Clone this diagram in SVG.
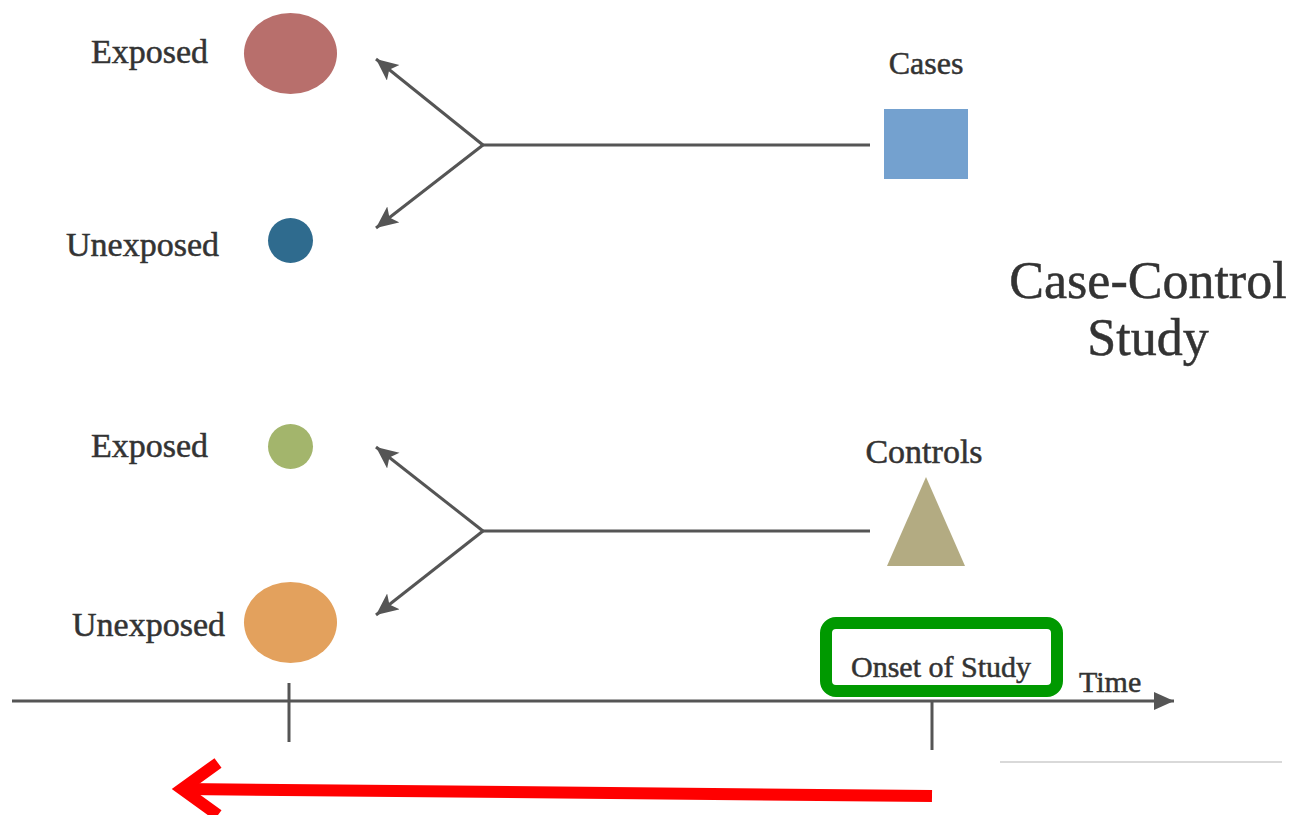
<svg xmlns="http://www.w3.org/2000/svg" width="1294" height="815" viewBox="0 0 1294 815">
<style>
.lbl{font-family:"Liberation Serif","Times New Roman",serif;fill:#333;stroke:#333;stroke-width:0.5}
.conn{stroke:#555;stroke-width:3;fill:none}
</style>
<defs>
<marker id="ah" markerUnits="userSpaceOnUse" markerWidth="26" markerHeight="22" refX="22" refY="10" orient="auto">
<path d="M0,0 L22,10 L0,20 L5,10 Z" fill="#555"/>
</marker>
<marker id="ah2" markerUnits="userSpaceOnUse" markerWidth="24" markerHeight="20" refX="20" refY="9" orient="auto">
<path d="M0,0 L20,9 L0,18 Z" fill="#555"/>
</marker>
</defs>
<rect width="1294" height="815" fill="#fff"/>
<g id="top-exposed">
<ellipse cx="290.5" cy="53.5" rx="46.5" ry="40.5" fill="#b86f6c"/>
<text class="lbl" x="208" y="63" font-size="34" text-anchor="end">Exposed</text>
</g>
<g id="top-unexposed">
<circle cx="290.5" cy="240.5" r="22.5" fill="#2f6b8e"/>
<text class="lbl" x="219" y="256" font-size="34" text-anchor="end">Unexposed</text>
</g>
<g id="cases">
<rect x="884" y="109" width="84" height="70" fill="#74a1cf"/>
<text class="lbl" x="926" y="74" font-size="32" text-anchor="middle">Cases</text>
</g>
<g id="title">
<text class="lbl" x="1148" y="298" font-size="52" text-anchor="middle">Case-Control</text>
<text class="lbl" x="1148" y="355" font-size="52" text-anchor="middle">Study</text>
</g>
<g id="bottom-exposed">
<circle cx="290.5" cy="446.5" r="22.5" fill="#a3b56c"/>
<text class="lbl" x="208" y="457" font-size="34" text-anchor="end">Exposed</text>
</g>
<g id="bottom-unexposed">
<ellipse cx="290.5" cy="622.5" rx="46.5" ry="40.5" fill="#e3a15d"/>
<text class="lbl" x="225" y="636" font-size="34" text-anchor="end">Unexposed</text>
</g>
<g id="controls">
<polygon points="926,477 965,566 887,566" fill="#b3ab82"/>
<text class="lbl" x="924" y="463" font-size="34" text-anchor="middle">Controls</text>
</g>
<g id="onset">
<rect x="826" y="623" width="231" height="68" rx="10" fill="#fff" stroke="#009900" stroke-width="12"/>
<text class="lbl" x="941" y="677" font-size="30" text-anchor="middle">Onset of Study</text>
</g>
<g id="time-label">
<text class="lbl" x="1079" y="692" font-size="30">Time</text>
</g>
<g id="connectors">
<line class="conn" x1="483" y1="145" x2="870" y2="145"/>
<line class="conn" x1="483" y1="145" x2="376" y2="59" marker-end="url(#ah)"/>
<line class="conn" x1="483" y1="145" x2="376" y2="228" marker-end="url(#ah)"/>
<line class="conn" x1="483" y1="531" x2="870" y2="531"/>
<line class="conn" x1="483" y1="531" x2="376" y2="447" marker-end="url(#ah)"/>
<line class="conn" x1="483" y1="531" x2="376" y2="615" marker-end="url(#ah)"/>
<line class="conn" x1="12" y1="701" x2="1174" y2="701" marker-end="url(#ah2)"/>
<line class="conn" x1="289" y1="683" x2="289" y2="742"/>
<line class="conn" x1="932" y1="700" x2="932" y2="750"/>
<line x1="1000" y1="762" x2="1282" y2="762" stroke="#ccc" stroke-width="1.5"/>
<line x1="932" y1="796" x2="184" y2="789" stroke="#ff0000" stroke-width="12"/>
<path d="M218 763 L182 789 L218 815" fill="none" stroke="#ff0000" stroke-width="12"/>
</g>
</svg>
